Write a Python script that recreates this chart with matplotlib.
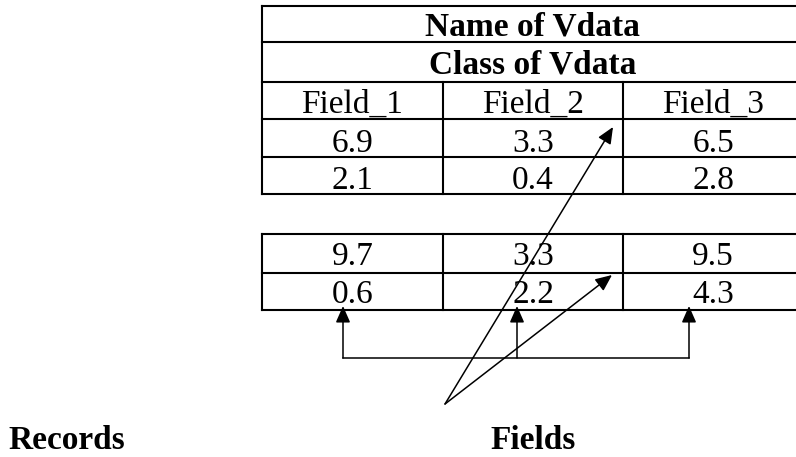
import matplotlib
matplotlib.use("Agg")
import matplotlib.pyplot as plt

# ---- data ----
title_name = "Name of Vdata"
title_class = "Class of Vdata"
field_names = ["Field_1", "Field_2", "Field_3"]
records_top = [[6.9, 3.3, 6.5], [2.1, 0.4, 2.8]]
records_bottom = [[9.7, 3.3, 9.5], [0.6, 2.2, 4.3]]
label_records = "Records"
label_fields = "Fields"

# ---- layout (pixel coordinates, y downward) ----
W, H = 796, 457
col_edges = [262, 443, 623, 803]
top_rows = [6, 42, 82, 119, 157, 194]
bot_rows = [234, 273, 310]
top_baselines = [35, 74, 113, 152, 189]
bot_baselines = [265, 303]
FS = 24
serif = ["Liberation Serif", "DejaVu Serif"]
LW = 1.5

fig = plt.figure(figsize=(W / 100, H / 100), dpi=100)
ax = fig.add_axes([0, 0, 1, 1])
ax.set_xlim(0, W)
ax.set_ylim(H, 0)
ax.axis("off")

def hline(y, x0, x1, lw=LW):
    ax.plot([x0, x1], [y, y], color="black", lw=lw, solid_capstyle="projecting")

def vline(x, y0, y1, lw=LW):
    ax.plot([x, x], [y0, y1], color="black", lw=lw, solid_capstyle="projecting")

L, R = col_edges[0], col_edges[-1]
cx_table = (L + R) / 2
col_centers = [(col_edges[i] + col_edges[i + 1]) / 2 for i in range(3)]

# top table
for y in top_rows:
    hline(y, L, R)
vline(L, top_rows[0], top_rows[-1])
vline(R, top_rows[0], top_rows[-1])
for x in col_edges[1:-1]:
    vline(x, top_rows[2], top_rows[-1])

ax.text(cx_table, top_baselines[0], title_name, ha="center", va="baseline",
        fontsize=FS, fontweight="bold", family=serif)
ax.text(cx_table, top_baselines[1], title_class, ha="center", va="baseline",
        fontsize=FS, fontweight="bold", family=serif)
for cx, name in zip(col_centers, field_names):
    ax.text(cx, top_baselines[2], name, ha="center", va="baseline",
            fontsize=FS, family=serif)
for r, row in enumerate(records_top):
    for cx, v in zip(col_centers, row):
        ax.text(cx, top_baselines[3 + r], f"{v:.1f}", ha="center", va="baseline",
                fontsize=FS, family=serif)

# bottom table
for y in bot_rows:
    hline(y, L, R)
vline(L, bot_rows[0], bot_rows[-1])
vline(R, bot_rows[0], bot_rows[-1])
for x in col_edges[1:-1]:
    vline(x, bot_rows[0], bot_rows[-1])
for r, row in enumerate(records_bottom):
    for cx, v in zip(col_centers, row):
        ax.text(cx, bot_baselines[r], f"{v:.1f}", ha="center", va="baseline",
                fontsize=FS, family=serif)

# arrows
aprops = dict(arrowstyle="-|>,head_length=0.5,head_width=0.22", color="black",
              lw=1.1, shrinkA=0, shrinkB=0, mutation_scale=20)

# record arrows (up from a bracket)
rec_x = [343, 517, 689]
bracket_y = 358
tip_y = 306
ax.plot([rec_x[0], rec_x[-1]], [bracket_y, bracket_y], color="black", lw=1.1)
for x in rec_x:
    ax.annotate("", xy=(x, tip_y), xytext=(x, bracket_y), arrowprops=aprops)

# field arrows (from a common point)
origin = (445, 404)
ax.annotate("", xy=(613, 127), xytext=origin, arrowprops=aprops)
ax.annotate("", xy=(612, 275), xytext=origin, arrowprops=aprops)

# labels
ax.text(8, 449, label_records, ha="left", va="baseline", fontsize=FS,
        fontweight="bold", family=serif)
ax.text(490, 449, label_fields, ha="left", va="baseline", fontsize=FS,
        fontweight="bold", family=serif)

fig.savefig("out.png", dpi=100)
